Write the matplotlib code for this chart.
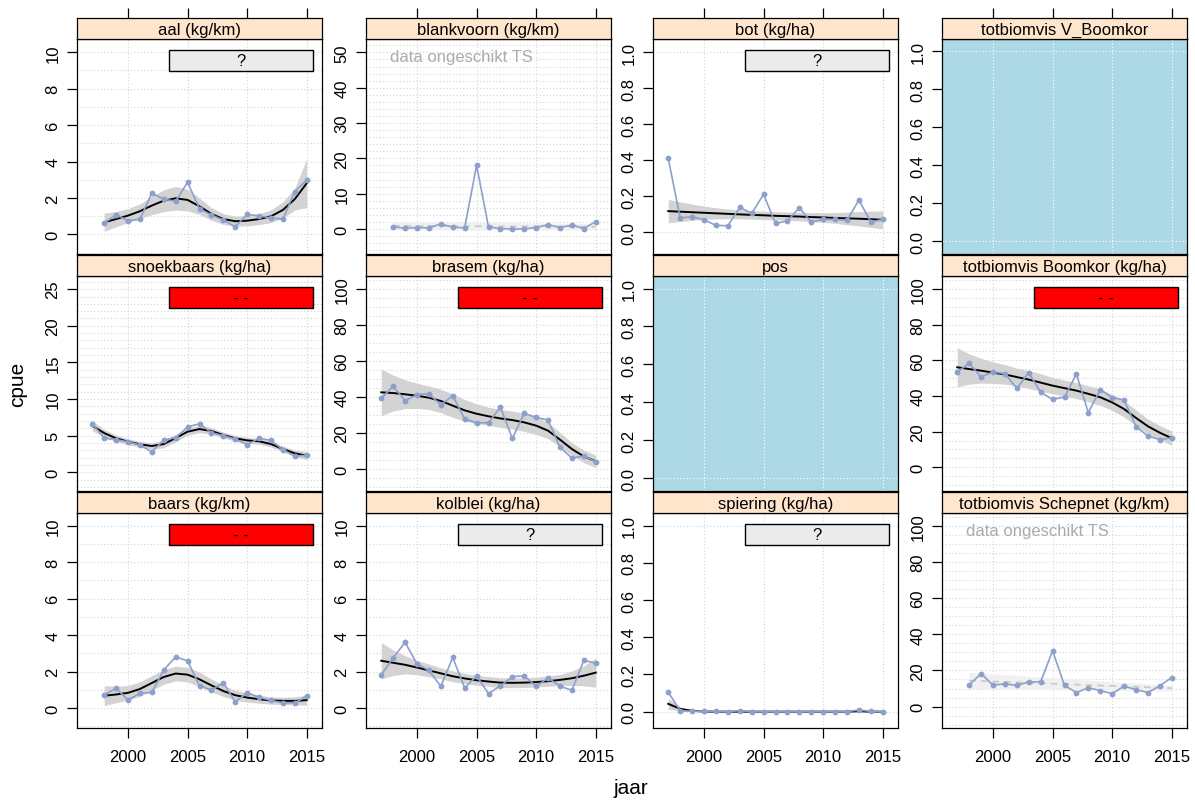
import matplotlib
matplotlib.use('Agg')
import matplotlib.pyplot as plt
from matplotlib.patches import Rectangle

plt.rcParams['font.family'] = ['Liberation Sans', 'DejaVu Sans']

# --- data ---
years_97 = [1997, 1998, 1999, 2000, 2001, 2002, 2003, 2004, 2005, 2006,
            2007, 2008, 2009, 2010, 2011, 2012, 2013, 2014, 2015]
years_98 = years_97[1:]

aal_cpue = [0.61, 1.08, 0.75, 0.83, 2.26, 1.93, 1.82, 2.86, 1.41, 1.06, 0.79, 0.42,
            1.10, 1.01, 0.90, 0.84, 2.35, 2.99]
aal_fit = [0.66, 0.84, 1.03, 1.27, 1.58, 1.85, 1.98, 1.89, 1.54, 1.12, 0.84, 0.72,
           0.75, 0.84, 0.99, 1.34, 1.94, 2.81]
aal_se = [0.5, 0.42, 0.38, 0.4, 0.5, 0.6, 0.65, 0.6, 0.45, 0.35, 0.3, 0.28,
          0.28, 0.3, 0.35, 0.45, 0.6, 1.35]

blank_cpue = [0.57, 0.2, 0.4, 0.3, 1.4, 0.5, 0.3, 18.0, 0.6, 0.1, 0.0, 0.0,
              0.4, 1.2, 0.4, 1.1, 0.1, 2.1]
blank_trend = [0.9, 0.6]
blank_se = [1.2, 0.9]

bot_cpue = [0.411, 0.080, 0.087, 0.070, 0.039, 0.037, 0.139, 0.106, 0.211, 0.050,
            0.063, 0.137, 0.057, 0.072, 0.072, 0.067, 0.180, 0.057, 0.072]
bot_fit = [0.118, 0.115, 0.112, 0.109, 0.106, 0.103, 0.100, 0.097, 0.095, 0.092,
           0.090, 0.088, 0.085, 0.083, 0.080, 0.078, 0.076, 0.073, 0.070]
bot_se = [0.065, 0.055, 0.045, 0.037, 0.031, 0.027, 0.025, 0.024, 0.023, 0.023,
          0.023, 0.024, 0.025, 0.027, 0.03, 0.035, 0.04, 0.045, 0.05]

snoek_cpue = [6.64, 4.68, 4.45, 4.18, 3.73, 2.77, 4.41, 4.73, 6.18, 6.64,
              5.41, 5.0, 4.55, 3.77, 4.64, 4.36, 3.09, 2.23, 2.32]
snoek_fit = [6.36, 5.36, 4.64, 4.18, 3.82, 3.59, 3.86, 4.68, 5.55, 5.91,
             5.64, 5.09, 4.64, 4.36, 4.23, 3.86, 3.18, 2.59, 2.27]
snoek_se = [0.7, 0.5, 0.45, 0.4, 0.4, 0.45, 0.5, 0.5, 0.5, 0.5,
            0.45, 0.4, 0.4, 0.4, 0.4, 0.4, 0.4, 0.45, 0.55]

brasem_cpue = [39.3, 45.9, 38.0, 41.3, 41.7, 35.7, 40.7, 27.8, 25.7, 25.7,
               34.4, 17.0, 30.9, 28.7, 27.2, 12.0, 6.1, 7.2, 4.1]
brasem_fit = [42.6, 42.2, 41.5, 40.7, 39.6, 37.8, 35.2, 32.6, 30.7, 29.3,
              28.1, 27.2, 25.9, 24.1, 21.3, 16.3, 11.1, 7.0, 4.3]
brasem_se = [13, 10, 8, 7, 6.5, 6.5, 6.5, 6, 5.5, 5,
             5, 5, 5, 5, 4.5, 4, 3.5, 3.5, 3.5]

boomkor_cpue = [53.5, 58.3, 50.7, 53.5, 52.5, 44.3, 53.1, 42.1, 38.1, 39.4,
                52.3, 30.7, 43.6, 39.1, 37.8, 22.8, 17.6, 15.5, 16.6]
boomkor_fit = [56.1, 55.1, 54.2, 53.1, 52.1, 50.6, 49.2, 47.5, 45.8, 44.4,
               43.0, 41.2, 39.3, 36.4, 32.7, 27.7, 23.0, 19.4, 16.3]
boomkor_se = [11, 8.5, 7, 6, 5.5, 5, 5, 5, 4.5, 4.5,
              4.5, 4.5, 4.5, 4.5, 4.5, 4.5, 4, 4, 4]

baars_cpue = [0.72, 1.07, 0.44, 0.80, 0.85, 2.09, 2.80, 2.59, 1.22, 0.98, 1.39, 0.33,
              0.83, 0.59, 0.41, 0.28, 0.28, 0.65]
baars_fit = [0.67, 0.74, 0.83, 1.04, 1.37, 1.70, 1.89, 1.83, 1.57, 1.24, 0.93, 0.70,
             0.57, 0.48, 0.41, 0.39, 0.39, 0.43]
baars_se = [0.55, 0.45, 0.4, 0.4, 0.4, 0.4, 0.4, 0.4, 0.4, 0.35, 0.3, 0.28,
            0.25, 0.22, 0.2, 0.2, 0.22, 0.28]

kolblei_cpue = [1.82, 2.75, 3.60, 2.42, 2.06, 1.19, 2.77, 1.10, 1.76, 0.79,
                1.21, 1.72, 1.76, 1.19, 1.65, 1.19, 0.97, 2.61, 2.46]
kolblei_fit = [2.59, 2.48, 2.37, 2.22, 2.06, 1.90, 1.74, 1.62, 1.52, 1.45,
               1.39, 1.38, 1.39, 1.42, 1.47, 1.54, 1.63, 1.77, 1.94]
kolblei_se = [1.0, 0.7, 0.5, 0.4, 0.35, 0.3, 0.3, 0.28, 0.27, 0.27,
              0.27, 0.27, 0.27, 0.27, 0.28, 0.3, 0.4, 0.55, 0.8]

spiering_cpue = [0.105, 0.005, 0.002, 0.003, 0.001, 0.0, 0.005, 0.0, 0.0, 0.0,
                 0.0, 0.0, 0.0, 0.0, 0.0, 0.0, 0.009, 0.001, 0.0]
spiering_fit = [0.042, 0.015, 0.004, 0.001, 0.0, 0.0, 0.0, 0.0, 0.0, 0.0,
                0.0, 0.0, 0.0, 0.0, 0.0, 0.0, 0.002, 0.0, 0.0]
spiering_se = [0.03, 0.01, 0.004, 0.002, 0.001, 0.001, 0.001, 0.001, 0.001, 0.001,
               0.001, 0.001, 0.001, 0.001, 0.001, 0.001, 0.002, 0.001, 0.001]

schep_cpue = [12.0, 18.3, 11.9, 12.6, 11.7, 13.7, 13.7, 30.9, 11.7, 7.8, 10.4, 8.9,
              7.2, 11.3, 9.4, 7.8, 11.5, 16.1]
schep_trend = [14.4, 10.2]
schep_se = [4.5, 1.5]

# --- layout (pixels of the 1195x803 picture) ---
W, H = 1195, 803
col_left = [77, 366, 653, 942]
row_top = [40, 277, 514]
pw, ph, sh = 245, 215, 21
xlim = (1995.72, 2016.28)
xmajor = [2000, 2005, 2010, 2015]

blue = '#8DA0CB'
grid_col = '#D4D4D4'

fig = plt.figure(figsize=(W / 100, H / 100), dpi=100)


def px_axes(left, top, width, height):
    return fig.add_axes([left / W, 1 - (top + height) / H, width / W, height / H])


def status_box(ax, kind):
    face = '#FF0000' if kind == 'red' else '#EBEBEB'
    txt = '- -' if kind == 'red' else '?'
    ax.add_patch(Rectangle((0.375, 0.853), 0.59, 0.097, transform=ax.transAxes,
                           facecolor=face, edgecolor='black', lw=1.0, zorder=5))
    ax.text(0.67, 0.9, txt, transform=ax.transAxes, ha='center', va='center',
            fontsize=12, zorder=6)


def draw_panel(r, c, title, ylim, yticks, fmt, hstep, kind,
               years=None, cpue=None, fit=None, se=None):
    ax = px_axes(col_left[c], row_top[r], pw, ph)
    strip = px_axes(col_left[c], row_top[r] - sh, pw, sh)

    # strip
    strip.set_facecolor('#FFE5CC')
    strip.set_xlim(xlim)
    strip.set_yticks([])
    strip.text(0.5, 0.45, title, transform=strip.transAxes, ha='center', va='center',
               fontsize=12)
    if r == 0:
        strip.set_xticks(xmajor)
        strip.xaxis.set_ticks_position('top')
        strip.tick_params(axis='x', direction='out', length=7, width=0.9,
                          labeltop=False, labelbottom=False)
    else:
        strip.set_xticks([])
    for sp in strip.spines.values():
        sp.set_linewidth(0.9)

    # panel
    ax.set_xlim(xlim)
    ax.set_ylim(ylim)
    for sp in ax.spines.values():
        sp.set_linewidth(0.9)
        sp.set_zorder(10)

    if kind == 'empty':
        ax.set_facecolor('#ADD8E6')
        gcol = 'white'
    else:
        gcol = grid_col
    # grid
    h = 0.0
    while h <= ylim[1]:
        ax.axhline(h, color=gcol, lw=0.8, ls=(0, (1, 2)), zorder=0)
        h = round(h + hstep, 6)
    h = -hstep
    while h >= ylim[0]:
        ax.axhline(h, color=gcol, lw=0.8, ls=(0, (1, 2)), zorder=0)
        h -= hstep
    for v in xmajor:
        ax.axvline(v, color=gcol, lw=0.8, ls=(0, (1, 2)), zorder=0)

    ax.set_yticks(yticks)
    ax.set_yticklabels([fmt.format(t) for t in yticks], rotation=90, va='center',
                       fontsize=12)
    ax.tick_params(axis='y', direction='out', length=7, width=0.9, pad=5)

    ax.set_xticks(xmajor)
    if r == 2:
        ax.set_xticklabels([str(v) for v in xmajor], fontsize=12)
        ax.tick_params(axis='x', direction='out', length=7, width=0.9, pad=8)
    else:
        ax.tick_params(axis='x', length=0, labelbottom=False)

    if kind == 'empty':
        return ax

    if kind == 'unfit':
        x_ends = [years[0], years[-1]]
        lo = [fit[i] - se[i] for i in range(2)]
        hi = [fit[i] + se[i] for i in range(2)]
        ax.fill_between(x_ends, lo, hi, color='#F0F0F0', lw=0, zorder=1)
        ax.plot(x_ends, fit, color='#C8C8C8', lw=1.2, ls=(0, (4, 3)), zorder=2)
        ax.text(0.1, 0.92, 'data ongeschikt TS', transform=ax.transAxes,
                ha='left', va='center', fontsize=12, color='#ABABAB')
    else:
        lo = [f - s for f, s in zip(fit, se)]
        hi = [f + s for f, s in zip(fit, se)]
        ax.fill_between(years, lo, hi, color='#D3D3D3', lw=0, zorder=1)
        ax.plot(years, fit, color='black', lw=1.4, zorder=3)
        status_box(ax, kind)

    ax.plot(years, cpue, color=blue, lw=1.2, marker='o', markersize=4.2,
            markeredgewidth=0, zorder=4)
    return ax


fmt_int = '{:.0f}'
fmt_1 = '{:.1f}'
t_10 = [0, 2, 4, 6, 8, 10]
t_1 = [0, 0.2, 0.4, 0.6, 0.8, 1.0]
t_100 = [0, 20, 40, 60, 80, 100]

draw_panel(0, 0, 'aal (kg/km)', (-1.08, 10.73), t_10, fmt_int, 1, '?',
           years_98, aal_cpue, aal_fit, aal_se)
draw_panel(0, 1, 'blankvoorn (kg/km)', (-7.1, 53.8), [0, 10, 20, 30, 40, 50], fmt_int, 2,
           'unfit', years_98, blank_cpue, blank_trend, blank_se)
draw_panel(0, 2, 'bot (kg/ha)', (-0.12, 1.074), t_1, fmt_1, 1, '?',
           years_97, bot_cpue, bot_fit, bot_se)
draw_panel(0, 3, 'totbiomvis V_Boomkor', (-0.067, 1.065), t_1, fmt_1, 1, 'empty')

draw_panel(1, 0, 'snoekbaars (kg/ha)', (-2.55, 26.8), [0, 5, 10, 15, 20, 25], fmt_int, 1,
           'red', years_97, snoek_cpue, snoek_fit, snoek_se)
draw_panel(1, 1, 'brasem (kg/ha)', (-12.2, 107.2), t_100, fmt_int, 5, 'red',
           years_97, brasem_cpue, brasem_fit, brasem_se)
draw_panel(1, 2, 'pos', (-0.068, 1.066), t_1, fmt_1, 1, 'empty')
draw_panel(1, 3, 'totbiomvis Boomkor (kg/ha)', (-13.3, 107.3), t_100, fmt_int, 5, 'red',
           years_97, boomkor_cpue, boomkor_fit, boomkor_se)

draw_panel(2, 0, 'baars (kg/km)', (-1.1, 10.7), t_10, fmt_int, 1, 'red',
           years_98, baars_cpue, baars_fit, baars_se)
draw_panel(2, 1, 'kolblei (kg/ha)', (-1.1, 10.7), t_10, fmt_int, 1, '?',
           years_97, kolblei_cpue, kolblei_fit, kolblei_se)
draw_panel(2, 2, 'spiering (kg/ha)', (-0.088, 1.068), t_1, fmt_1, 1, '?',
           years_97, spiering_cpue, spiering_fit, spiering_se)
draw_panel(2, 3, 'totbiomvis Schepnet (kg/km)', (-11.8, 107.0), t_100, fmt_int, 5,
           'unfit', years_98, schep_cpue, schep_trend, schep_se)

fig.text(18 / W, 1 - 384 / H, 'cpue', rotation=90, ha='center', va='center', fontsize=15)
fig.text(631 / W, 1 - 789 / H, 'jaar', ha='center', va='center', fontsize=15)

fig.savefig('out.png', dpi=100)
